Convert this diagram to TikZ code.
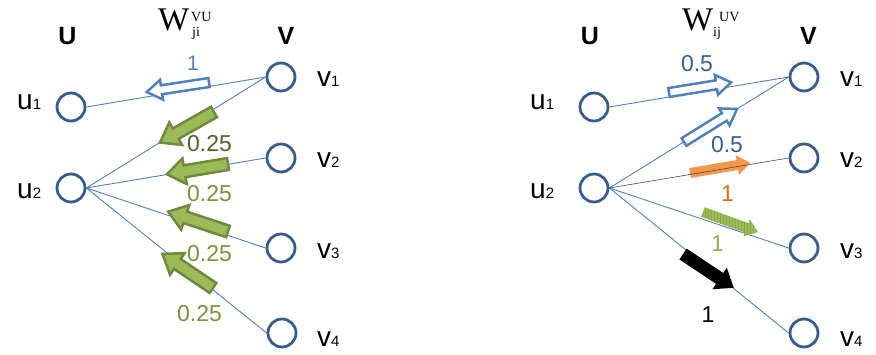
\documentclass[tikz,border=0pt]{standalone}
\usepackage{fontspec}
\setmainfont{Liberation Sans}
\newfontfamily\wserif{Liberation Serif}
\usetikzlibrary{patterns}
\definecolor{circ}{HTML}{385D8A}
\definecolor{edgeblue}{HTML}{4F81BD}
\definecolor{lblblue}{HTML}{4F81BD}
\definecolor{dkblue}{HTML}{376092}
\definecolor{grfill}{HTML}{9BBB59}
\definecolor{grline}{HTML}{71893F}
\definecolor{grdark}{HTML}{4F6228}
\definecolor{grmid}{HTML}{77933C}
\definecolor{orfill}{HTML}{F79646}
\definecolor{ortext}{HTML}{E46C0A}
\definecolor{hatch}{HTML}{8AAA4C}
\definecolor{grlight}{HTML}{8EB04A}
\newcommand\ulab[2]{{\fontsize{28}{28}\selectfont #1}{\fontsize{15}{15}\selectfont #2}}
\tikzset{
  pics/blockarr/.style n args={4}{code={
    \path[pic actions] (0,-#1) -- (#4-#3,-#1) -- (#4-#3,-#2) -- (#4,0) -- (#4-#3,#2) -- (#4-#3,#1) -- (0,#1) -- cycle;
  }}
}
\begin{document}
\begin{tikzpicture}[x=1pt,y=-1pt,
  unit/.style={circle, draw=circ, fill=white, line width=2.8pt, minimum size=28pt, inner sep=0pt},
  edge/.style={draw=edgeblue, line width=0.9pt},
  num/.style={inner sep=0pt, font=\fontsize{23}{23}\selectfont},
  uvl/.style={anchor=base west, inner sep=0pt},
  head/.style={inner sep=0pt, font=\fontsize{25}{25}\selectfont\bfseries},
  wbig/.style={anchor=base west, inner sep=0pt, font=\wserif\fontsize{33}{33}\selectfont},
  wsmall/.style={anchor=base west, inner sep=0pt, font=\wserif\fontsize{14}{14}\selectfont},
  hollowarr/.style={draw=edgeblue, fill=white, line width=2.5pt, line join=miter},
  greenarr/.style={draw=grline, fill=grfill, line width=2.5pt, line join=miter},
]
\useasboundingbox (0,0) rectangle (876,355);

% ---------- left diagram ----------
\node[unit] (lu1) at (71,107) {};
\node[unit] (lu2) at (71,188) {};
\node[unit] (lv1) at (281,77) {};
\node[unit] (lv2) at (281,158) {};
\node[unit] (lv3) at (281,248) {};
\node[unit] (lv4) at (282,333) {};
\draw[edge] (lu1.east) -- (lv1.west);
\draw[edge] (lu2.east) -- (lv1.west);
\draw[edge] (lu2.east) -- (lv2.west);
\draw[edge] (lu2.east) -- (lv3.west);
\draw[edge] (lu2.east) -- (lv4.west);

\node[head] (lU) at (67.5,36) {U};
\node[head] (lV) at (286,36) {V};
\node[wbig] (lW) at (158,31) {W};
\node[wsmall] (lWs) at (191,22) {VU};
\node[wsmall] (lWb) at (192,37) {ji};

\node[uvl] (lu1l) at (17,110) {\ulab{u}{1}};
\node[uvl] (lu2l) at (17,199) {\ulab{u}{2}};
\node[uvl] (lv1l) at (317,87) {\ulab{v}{1}};
\node[uvl] (lv2l) at (317,168) {\ulab{v}{2}};
\node[uvl] (lv3l) at (317,259) {\ulab{v}{3}};
\node[uvl] (lv4l) at (317,347) {\ulab{v}{4}};

\pic[hollowarr, rotate=188.7] at (209,82.5) {blockarr={4.5}{10}{15}{63}};
\pic[greenarr, rotate=209.5] at (214,112) {blockarr={6}{13}{18}{62}};
\pic[greenarr, rotate=189.5] at (228,164) {blockarr={6}{13}{18}{62}};
\pic[greenarr, rotate=161.7] at (228,231.5) {blockarr={6}{13}{18}{63}};
\pic[greenarr, rotate=146] at (213,288) {blockarr={6}{13}{18}{61}};

\node[num, text=lblblue, font=\fontsize{21}{21}\selectfont] (ln1) at (193,63) {1};
\node[num, text=grdark] (ln2) at (209.5,143.5) {0.25};
\node[num, text=grmid] (ln3) at (209.5,193.5) {0.25};
\node[num, text=grmid] (ln4) at (209.5,253.5) {0.25};
\node[num, text=grmid] (ln5) at (199.5,313.5) {0.25};

% ---------- right diagram ----------
\node[unit] (ru1) at (594,107) {};
\node[unit] (ru2) at (594,188) {};
\node[unit] (rv1) at (804,77) {};
\node[unit] (rv2) at (804,158) {};
\node[unit] (rv3) at (804,248) {};
\node[unit] (rv4) at (804,333) {};
\draw[edge] (ru1.east) -- (rv1.west);
\draw[edge] (ru2.east) -- (rv1.west);
\draw[edge] (ru2.east) -- (rv3.west);
\draw[edge] (ru2.east) -- (rv4.west);

\node[head] (rU) at (590,36) {U};
\node[head] (rV) at (808.5,36) {V};
\node[wbig] (rW) at (682,31) {W};
\node[wsmall] (rWs) at (719,22) {UV};
\node[wsmall] (rWb) at (713,37) {ij};

\node[uvl] (ru1l) at (530,110) {\ulab{u}{1}};
\node[uvl] (ru2l) at (530,199) {\ulab{u}{2}};
\node[uvl] (rv1l) at (840,87) {\ulab{v}{1}};
\node[uvl] (rv2l) at (840,168) {\ulab{v}{2}};
\node[uvl] (rv3l) at (840,259) {\ulab{v}{3}};
\node[uvl] (rv4l) at (840,347) {\ulab{v}{4}};

\pic[hollowarr, rotate=9.2] at (669,92.5) {blockarr={4.5}{10}{15}{63}};
\pic[hollowarr, rotate=31.9] at (684,142) {blockarr={4.5}{10}{15}{62.5}};
\pic[fill=orfill, rotate=9.5] at (690,173) {blockarr={5}{10}{13}{61}};
\draw[edge, draw=edgeblue!60!black, line width=0.6pt] (ru2.east) -- (rv2.west);
\pic[fill=grfill, rotate=-20] at (703,212) {blockarr={5}{9}{12}{58.5}};
\pic[pattern=vertical lines, pattern color=hatch, rotate=-20] at (703,212) {blockarr={5}{9}{12}{58.5}};
\pic[fill=black, rotate=-33.7] at (683,254) {blockarr={6.5}{13}{17}{61}};

\node[num, text=dkblue] (rn1) at (697,63.5) {0.5};
\node[num, text=dkblue] (rn2) at (727,145) {0.5};
\node[num, text=ortext] (rn3) at (727.5,193.5) {1};
\node[num, text=grlight] (rn4) at (717.5,243.5) {1};
\node[num, text=black] (rn5) at (708,315) {1};
\end{tikzpicture}
\end{document}
